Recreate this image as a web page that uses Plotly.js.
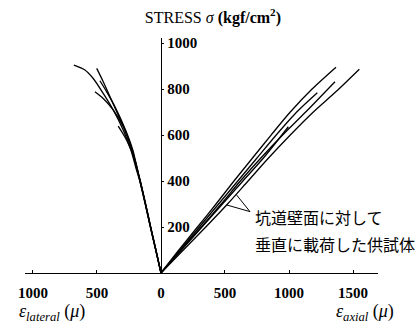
<!DOCTYPE html>
<html>
<head>
<meta charset="utf-8">
<script src="https://cdn.plot.ly/plotly-3.0.1.min.js"></script>
<style>html,body{margin:0;padding:0;background:#fff;}</style>
</head>
<body>
<div id="chart" style="width:420px;height:327px;"></div>
<script>
// Lateral strain curves (magnitude, μ) and stress (kgf/cm²)
const latA_strain = [0,40,82,122,165,192,235,295,373,451,529,594,680];
const latA_stress = [0,100,200,300,400,450,535,622,709,781,846,883,904];
const latB_strain = [0,40,81,120,162,185,225,281,346,398,451,502];
const latB_stress = [0,100,200,300,400,450,535,622,701,767,832,890];
const latC_strain = [0,40,81,120,162,184,220,275,359,424,477];
const latC_stress = [0,100,200,300,400,450,535,620,723,788,836];
const latD_strain = [0,41,83,123,165,188,228,295,373,451,516];
const latD_stress = [0,100,200,300,400,450,535,636,709,759,788];
const latE_strain = [0,40,81,121,162,203,268,334];
const latE_stress = [0,100,200,300,400,491,578,639];

// Axial strain curves (μ) and stress
const ax1_strain = [0,140,285,430,570,715,860,1010,1180,1367];
const ax1_stress = [0,100,200,300,400,500,600,700,800,895];
const ax2_strain = [0,175,350,520,680,840,1010,1190,1370,1549];
const ax2_stress = [0,100,200,300,400,500,600,700,790,886];
const ax3_strain = [0,155,315,470,620,780,950,1130,1359];
const ax3_stress = [0,100,200,300,400,500,600,700,832];
const ax4_strain = [0,150,300,450,600,750,900,1060,1221];
const ax4_stress = [0,100,200,300,400,500,600,700,784];
const ax5_strain = [0,160,320,480,640,800,995];
const ax5_stress = [0,100,200,300,400,500,636];

const xTickVals = [-1000,-500,0,500,1000,1500];
const xTickText = ['1000','500','0','500','1000','1500'];
const yTickVals = [200,400,600,800,1000];
const yTickText = ['200','400','600','800','1000'];

const titleText = 'STRESS <i>σ</i> <b>(kgf/cm<sup>2</sup>)</b>';
const latLabel = '<i>ε<sub>lateral</sub></i> (<i>μ</i>)';
const axLabel = '<i>ε<sub>axial</sub></i> (<i>μ</i>)';
const noteLine1 = '坑道壁面に対して';
const noteLine2 = '垂直に載荷した供試体';
// arrow from note to curves (data coordinates: strain, stress)
const arrowStart = [695, 267];
const arrowEnds = [[591, 339], [513, 296]];

const lineStyle = {color:'#000', width:1.3, shape:'spline', smoothing:0.8};
function lat(s, t){ return {x: s.map(v=>-v), y: t, mode:'lines', line: lineStyle, cliponaxis:false, hoverinfo:'skip'}; }
function axl(s, t){ return {x: s, y: t, mode:'lines', line: lineStyle, cliponaxis:false, hoverinfo:'skip'}; }

const traces = [
  lat(latA_strain, latA_stress), lat(latB_strain, latB_stress), lat(latC_strain, latC_stress),
  lat(latD_strain, latD_stress), lat(latE_strain, latE_stress),
  axl(ax1_strain, ax1_stress), axl(ax2_strain, ax2_stress), axl(ax3_strain, ax3_stress),
  axl(ax4_strain, ax4_stress), axl(ax5_strain, ax5_stress)
];

const serif = 'Liberation Serif, DejaVu Serif, serif';
const layout = {
  width:420, height:327,
  margin:{l:25, r:42, t:38, b:54},
  paper_bgcolor:'#fff', plot_bgcolor:'#fff',
  showlegend:false,
  title:{text:titleText, font:{family:serif, size:16, color:'#000'}, xref:'container', yref:'container', x:0.507, y:0.948, xanchor:'center', yanchor:'middle'},
  xaxis:{range:[-1062,1695], showgrid:false, zeroline:false, showline:true, linecolor:'#000', linewidth:1.3,
    tickvals:xTickVals, ticktext:xTickText, ticks:'inside', ticklen:3, tickcolor:'#000',
    tickfont:{family:serif, size:15, color:'#000', weight:'bold'}, ticklabelstandoff:6},
  yaxis:{range:[0,1022], anchor:'free', position:0.3853, side:'right', showgrid:false, zeroline:false, showline:true,
    linecolor:'#000', linewidth:1.3, tickvals:yTickVals, ticktext:yTickText, ticks:'outside', ticklen:2, tickcolor:'#000',
    tickfont:{family:serif, size:15, color:'#000', weight:'bold'}},
  shapes: arrowEnds.map(e=>({type:'line', xref:'x', yref:'y', x0:arrowStart[0], y0:arrowStart[1], x1:e[0], y1:e[1], line:{color:'#000', width:1}})),
  annotations:[
    {text:latLabel, xref:'paper', yref:'paper', x:-0.023, y:-0.17, xanchor:'left', yanchor:'middle', showarrow:false, font:{family:serif, size:18, color:'#000'}},
    {text:axLabel, xref:'paper', yref:'paper', x:1.051, y:-0.17, xanchor:'right', yanchor:'middle', showarrow:false, font:{family:serif, size:18, color:'#000'}},
    {text:noteLine1, xref:'paper', yref:'paper', x:0.646, y:0.238, xanchor:'left', yanchor:'middle', showarrow:false, font:{family:'Noto Sans CJK JP', size:16, color:'#000'}},
    {text:noteLine2, xref:'paper', yref:'paper', x:0.646, y:0.123, xanchor:'left', yanchor:'middle', showarrow:false, font:{family:'Noto Sans CJK JP', size:16, color:'#000'}}
  ]
};
Plotly.newPlot('chart', traces, layout, {staticPlot:true, displayModeBar:false});
</script>
</body>
</html>
